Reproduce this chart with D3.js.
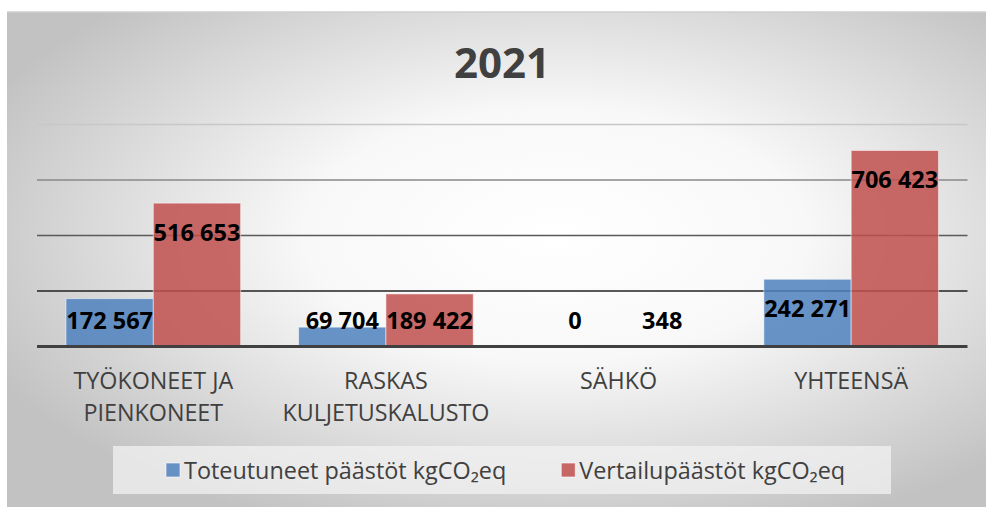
<!DOCTYPE html>
<html lang="fi">
<head>
<meta charset="UTF-8">
<title>2021</title>
<style>
  body { margin: 0; background: #fff; }
  svg text { font-family: "Open Sans", sans-serif; }
</style>
</head>
<body>
<div id="chart"></div>
<script src="https://d3js.org/d3.v7.min.js"></script>
<script>
// data
const title = "2021";
const categories = ["TYÖKONEET JA\nPIENKONEET", "RASKAS\nKULJETUSKALUSTO", "SÄHKÖ", "YHTEENSÄ"];
const seriesNames = ["Toteutuneet päästöt kgCO\u2082eq", "Vertailupäästöt kgCO\u2082eq"];
const toteutuneet = [172567, 69704, 0, 242271];
const vertailu = [516653, 189422, 348, 706423];
const yTicks = [0, 200000, 400000, 600000, 800000];
const colors = ["#4f81bd", "#c0504d"];

const width = 986, height = 507;
const plot = { left: 37, right: 967.5, top: 124.5, bottom: 346.5 };

const svg = d3.select("#chart").append("svg")
    .attr("width", width)
    .attr("height", height);

// background gradient like the office chart
const defs = svg.append("defs");
const grad = defs.append("radialGradient")
    .attr("id", "bg")
    .attr("cx", "0.56").attr("cy", "0.45")
    .attr("r", "0.64");
grad.append("stop").attr("offset", "0").attr("stop-color", "#ffffff");
grad.append("stop").attr("offset", "0.4").attr("stop-color", "#f8f8f8");
grad.append("stop").attr("offset", "1").attr("stop-color", "#c2c2c2");

svg.append("rect")
    .attr("x", 7).attr("y", 12)
    .attr("width", width - 7).attr("height", height - 12)
    .attr("fill", "url(#bg)");
svg.append("line")
    .attr("x1", 7).attr("x2", width).attr("y1", 12).attr("y2", 12)
    .attr("stroke", "#cfcfcf").attr("stroke-width", 1.5);

svg.append("text")
    .attr("x", 502).attr("y", 78)
    .attr("text-anchor", "middle")
    .attr("font-size", 42).attr("font-weight", 700)
    .attr("fill", "#404040")
    .text(title);

const x0 = d3.scaleBand().domain(categories).range([plot.left, plot.right]);
const x1 = d3.scaleBand().domain([0, 1]).range([0, x0.bandwidth()]).paddingOuter(0.332).paddingInner(0);
const y = d3.scaleLinear().domain([0, 800000]).range([plot.bottom, plot.top]);

// gridlines, getting darker downwards
const gridColors = { 200000: "#222222", 400000: "#5a5a5a", 600000: "#888888", 800000: "#c8c8c8" };
svg.append("g").selectAll("line")
    .data(yTicks.filter(d => d > 0))
    .join("line")
    .attr("x1", plot.left).attr("x2", plot.right)
    .attr("y1", d => y(d)).attr("y2", d => y(d))
    .attr("stroke", d => gridColors[d])
    .attr("stroke-width", 1.5);

const rows = categories.map((c, i) => ({ cat: c, vals: [toteutuneet[i], vertailu[i]] }));

const groups = svg.append("g").selectAll("g")
    .data(rows)
    .join("g")
    .attr("transform", d => `translate(${x0(d.cat)},0)`);

groups.selectAll("rect")
    .data(d => d.vals.map((v, s) => ({ v, s })))
    .join("rect")
    .attr("x", d => x1(d.s))
    .attr("width", x1.bandwidth())
    .attr("y", d => y(d.v))
    .attr("height", d => y(0) - y(d.v))
    .attr("fill", d => colors[d.s])
    .attr("fill-opacity", 0.85)
    .attr("stroke", "#ffffff")
    .attr("stroke-opacity", 0.5)
    .attr("stroke-width", 1);

// baseline
svg.append("line")
    .attr("x1", plot.left).attr("x2", plot.right)
    .attr("y1", y(0)).attr("y2", y(0))
    .attr("stroke", "#404040").attr("stroke-width", 3);

const fmt = v => d3.format(",")(v).replace(/,/g, " ");

groups.selectAll("text.val")
    .data(d => d.vals.map((v, s) => ({ v, s })))
    .join("text")
    .attr("class", "val")
    .attr("x", d => x1(d.s) + x1.bandwidth() / 2)
    .attr("y", d => Math.min(y(d.v) + 29, y(0) - 26))
    .attr("dy", "0.36em")
    .attr("text-anchor", "middle")
    .attr("font-size", 23.5).attr("font-weight", 700)
    .attr("fill", "#000")
    .text(d => fmt(d.v));

// category labels
const catText = svg.append("g").selectAll("text")
    .data(categories)
    .join("text")
    .attr("text-anchor", "middle")
    .attr("font-size", 23.3)
    .attr("fill", "#404040")
    .attr("x", d => x0(d) + x0.bandwidth() / 2)
    .attr("y", 389);
catText.selectAll("tspan")
    .data(d => d.split("\n"))
    .join("tspan")
    .attr("x", function () { return d3.select(this.parentNode).attr("x"); })
    .attr("dy", (d, i) => i === 0 ? 0 : 32)
    .text(d => d);

// legend
svg.append("rect")
    .attr("x", 113).attr("y", 446)
    .attr("width", 778).attr("height", 48)
    .attr("fill", "#f2f2f2").attr("fill-opacity", 0.75);

const legend = svg.append("g");
const items = legend.selectAll("g")
    .data(seriesNames)
    .join("g");
items.append("rect")
    .attr("width", 14).attr("height", 14)
    .attr("y", 463)
    .attr("fill", (d, i) => colors[i])
    .attr("fill-opacity", 0.85)
    .attr("stroke", "#ffffff").attr("stroke-opacity", 0.6);
items.append("text")
    .attr("x", 18).attr("y", 478.5)
    .attr("font-size", 23.4)
    .attr("fill", "#404040")
    .text(d => d);

let lx = 166;
items.each(function () {
    d3.select(this).attr("transform", `translate(${lx},0)`);
    const w = d3.select(this).select("text").node().getComputedTextLength();
    lx += 18 + w + 55;
});
</script>
</body>
</html>
